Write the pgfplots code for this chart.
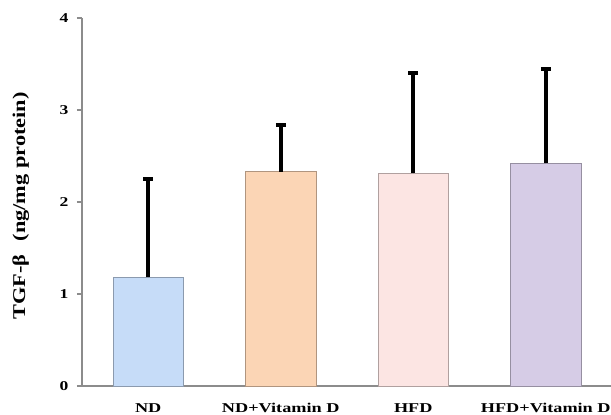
\documentclass[border=0pt]{standalone}
\usepackage{pgfplots}
\pgfplotsset{compat=1.18}
\usepackage{fontspec}
\setmainfont{Liberation Serif}
\definecolor{cND}{RGB}{198,220,248}
\definecolor{cNDV}{RGB}{251,213,181}
\definecolor{cHFD}{RGB}{252,229,227}
\definecolor{cHFDV}{RGB}{214,204,230}
\definecolor{axgray}{RGB}{140,140,140}
\newcommand{\xl}[1]{\scalebox{1.35}[1]{\textbf{#1}}}
\newcommand{\yl}[1]{\scalebox{1.3}[1]{\textbf{#1}}}
\begin{document}
\begin{tikzpicture}
\useasboundingbox (-82pt,-29pt) rectangle (529pt,386pt);
\begin{axis}[
  at={(0pt,0pt)}, anchor=south west,
  scale only axis, width=530pt, height=368pt,
  xmin=-0.5, xmax=3.5, ymin=0, ymax=4,
  axis lines*=left,
  axis line style={axgray, line width=1.5pt},
  ytick={0,1,2,3,4},
  yticklabels={\yl{0},\yl{1},\yl{2},\yl{3},\yl{4}},
  yticklabel style={font=\fontsize{13.5}{15}\selectfont, xshift=-5pt},
  ytick style={axgray, line width=1.2pt},
  tick align=outside, major tick length=5pt,
  xtick={0,1,2,3},
  xticklabels={\xl{ND},\xl{ND+Vitamin D},\xl{HFD},\xl{HFD+Vitamin D}},
  x tick style={draw=none},
  xticklabel style={font=\fontsize{13.5}{15}\selectfont, inner sep=0pt, anchor=north, yshift=-12pt},
  extra x ticks={-0.5,0.5,1.5,2.5},
  extra x tick labels={},
  extra x tick style={tick style={draw=axgray, line width=1.2pt}, major tick length=6pt},
  ylabel={\scalebox{1.24}[1]{\textbf{TGF-β\hspace{0.6em}(ng/mg protein)}}},
  ylabel style={font=\fontsize{18}{20}\selectfont, at={(axis description cs:-0.1075,0.489)}, anchor=base},
  ybar, bar width=0.53, bar shift=0pt,
  clip=false,
  error bars/y dir=plus, error bars/y explicit,
  error bars/error bar style={black, line width=4pt},
  error bars/error mark options={black, line width=4pt, mark size=5pt, rotate=90},
]
\addplot[fill=cND, draw=cND!70!black, line width=0.6pt] coordinates {(0,1.18) +- (0,1.07)};
\addplot[fill=cNDV, draw=cNDV!70!black, line width=0.6pt] coordinates {(1,2.33) +- (0,0.51)};
\addplot[fill=cHFD, draw=cHFD!70!black, line width=0.6pt] coordinates {(2,2.31) +- (0,1.09)};
\addplot[fill=cHFDV, draw=cHFDV!70!black, line width=0.6pt] coordinates {(3,2.42) +- (0,1.03)};
\end{axis}
\end{tikzpicture}
\end{document}
